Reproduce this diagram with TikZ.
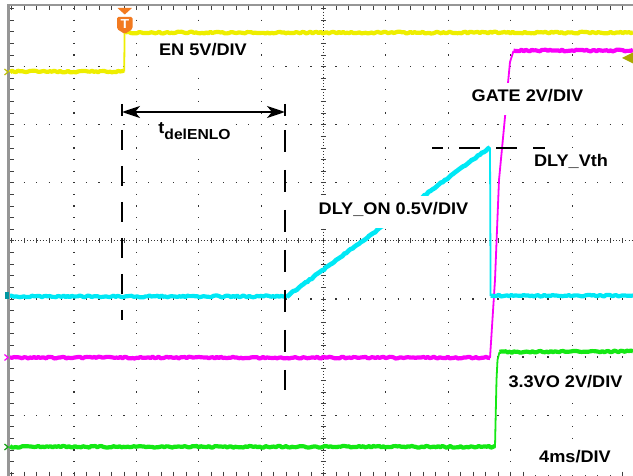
\documentclass[tikz,border=0pt]{standalone}
\usepackage{fontspec}
\newfontfamily\lab[FakeStretch=1.08]{Liberation Sans}
\usetikzlibrary{arrows.meta}
\definecolor{yel}{RGB}{238,238,0}
\definecolor{mag}{RGB}{250,0,250}
\definecolor{cya}{RGB}{0,232,245}
\definecolor{grn}{RGB}{20,232,20}
\definecolor{orgc}{RGB}{242,122,32}
\definecolor{olv}{RGB}{172,170,0}
\definecolor{teal2}{RGB}{0,150,160}
\definecolor{bord}{RGB}{150,150,150}
\begin{document}
\begin{tikzpicture}[x=1pt,y=-1pt,
  gdot/.style={draw=black!80,line width=1.2pt},
  gtick/.style={draw=black!75,line width=0.8pt},
  flat/.style={line width=4.2pt,line join=round},
  edge/.style={line width=1.8pt,line join=round},
  lbl/.style={fill=white,font=\lab\bfseries\fontsize{16.8pt}{18pt}\selectfont,
    inner xsep=4pt,inner ysep=7pt,text height=12pt,text depth=6pt,anchor=base},
  dim/.style={line width=2.2pt,black},
  tip/.style={Stealth[length=18pt,width=12pt,inset=5pt]}]
\useasboundingbox (0,0) rectangle (633,476);
\fill[white] (0,0) rectangle (633,476);
\def\gx{11.7}\def\gdx{62.35}\def\gy{8.5}\def\gdy{58.1}
% graticule
\foreach \k in {1,2,3,4,6,7,8,9}
  \draw[gdot,dash pattern=on 1.2pt off 10.42pt] ({\gx+\k*\gdx},{\gy-0.6}) -- ({\gx+\k*\gdx},476);
\foreach \j in {1,2,3,5,6,7}
  \draw[gdot,dash pattern=on 1.2pt off 11.27pt] ({\gx-0.6},{\gy+\j*\gdy}) -- (633,{\gy+\j*\gdy});
\draw[gdot,line width=0.9pt,dash pattern=on 0.9pt off 2.2pt] (\gx,240.9) -- (633,240.9);
\foreach \n in {0,...,50} \draw[gtick] ({\gx+\n*12.47},238.4) -- ({\gx+\n*12.47},243.4);
\draw[gdot,line width=0.9pt,dash pattern=on 0.9pt off 2.2pt] (323.45,\gy) -- (323.45,476);
\foreach \n in {0,...,40} \draw[gtick] (320.9,{\gy+\n*11.62}) -- (326,{\gy+\n*11.62});
% borders
\draw[bord,line width=2pt] (7,5.5) -- (633,5.5);
\draw[bord,line width=3pt] (8.5,4.5) -- (8.5,476);
\foreach \n in {0,...,50} \draw[gtick] ({\gx+\n*12.47},6.5) -- ({\gx+\n*12.47},9.8);
\foreach \n in {0,...,40} \draw[gtick] (10,{\gy+\n*11.62}) -- (13.8,{\gy+\n*11.62});
\foreach \n in {0,...,50} \draw[gtick] ({\gx+\n*12.47},471.5) -- ({\gx+\n*12.47},476);
% traces
\pgfmathsetseed{2024}
% yellow EN
\draw[yel,flat] plot[domain=10:124,samples=58] (\x,{71.5+0.9*rand});
\draw[yel,edge] (124.2,71.5) -- (124.6,33);
\draw[yel,flat] plot[domain=124.6:633,samples=250] (\x,{32.6+0.9*rand});
% magenta GATE
\draw[mag,flat] plot[domain=10:490,samples=240] (\x,{357.6+0.9*rand});
\draw[mag,edge] (490,358) -- (495,280) -- (499,180) -- (505,117) -- (508,83) -- (510,62) -- (513.5,51);
\draw[mag,flat] plot[domain=513.5:633,samples=60] (\x,{50.5+0.9*rand});
% cyan DLY_ON
\draw[cya,flat] plot[domain=10:287,samples=140] (\x,{296.4+0.9*rand});
\draw[cya,line width=4.6pt] plot[domain=287:490,samples=100] (\x,{296.4-0.735*(\x-287)+0.7*rand});
\draw[cya,edge] (490,147.5) -- (490.6,296);
\draw[cya,flat] plot[domain=490.6:633,samples=70] (\x,{295.6+0.9*rand});
% green 3.3VO
\draw[grn,flat] plot[domain=10:495,samples=240] (\x,{446.8+0.9*rand});
\draw[grn,edge] (495,447) -- (496.5,380) -- (497.5,360) -- (499.5,352);
\draw[grn,flat] plot[domain=499.5:633,samples=66] (\x,{352-0.006*(\x-499.5)+0.9*rand});
% channel markers
\draw[yel!80!black,line width=1.2pt] (4.5,69) -- (8,72) -- (4.5,75);
\fill[teal2] (5,292.5) rectangle (8.5,299.5);
\draw[mag,line width=1.2pt] (4.5,354.5) -- (8,357.5) -- (4.5,360.5);
\draw[grn!70!black,line width=1.2pt] (4.5,444) -- (8,447) -- (4.5,450);
% labels
\node[lbl] (en) at (203,56) {EN 5V/DIV};
\node[lbl,inner ysep=9pt] (td) at (194.5,134) {t\raisebox{-6pt}{\fontsize{14.5pt}{16pt}\selectfont delENLO}};
\node[lbl] (gate) at (527.5,102) {GATE 2V/DIV};
\node[lbl] (vth) at (571,167) {DLY\_Vth};
\node[lbl] (dly) at (393.5,215) {DLY\_ON 0.5V/DIV};
\node[lbl] (vo) at (565.5,388) {3.3VO 2V/DIV};
\node[lbl] (ms) at (575,462) {4ms/DIV};
% dimension lines
\coordinate (l1) at (122,104); \coordinate (l2) at (122,320);
\coordinate (r1) at (285,104); \coordinate (r2) at (285,390);
\coordinate (h1) at (432,148); \coordinate (h2) at (545,148);
\coordinate (al) at (122,112); \coordinate (ar) at (285,112);
\draw[dim,dash pattern=on 12pt off 14pt on 20pt off 16pt on 20pt off 16pt on 20pt off 16pt on 20pt off 16pt on 20pt off 16pt on 20pt off 16pt] (l1) -- (l2);
\draw[dim,dash pattern=on 12pt off 14pt on 22pt off 18pt on 22pt off 18pt on 22pt off 18pt on 22pt off 18pt on 22pt off 18pt on 22pt off 18pt on 22pt off 18pt] (r1) -- (r2);
\draw[dim,dash pattern=on 11pt off 16pt on 21pt off 16pt on 21pt off 16pt on 21pt off 16pt] (h1) -- (h2);
\draw[dim,{Stealth[length=18pt,width=12pt,inset=5pt]}-{Stealth[length=18pt,width=12pt,inset=5pt]}] (al) -- (ar);
% trigger markers
\fill[orgc] (117.5,8) -- (132,8) -- (124.8,14.5) -- cycle;
\fill[orgc,rounded corners=1.5pt] (117,17) -- (132.5,17) -- (132.5,29) -- (124.8,34) -- (117,29) -- cycle;
\node[white,font=\lab\bfseries\fontsize{13pt}{13pt}\selectfont,inner sep=0pt] (tm) at (124.8,24) {T};
\fill[olv] (622,58) -- (633,52.5) -- (633,63.5) -- cycle;
\end{tikzpicture}
\end{document}
